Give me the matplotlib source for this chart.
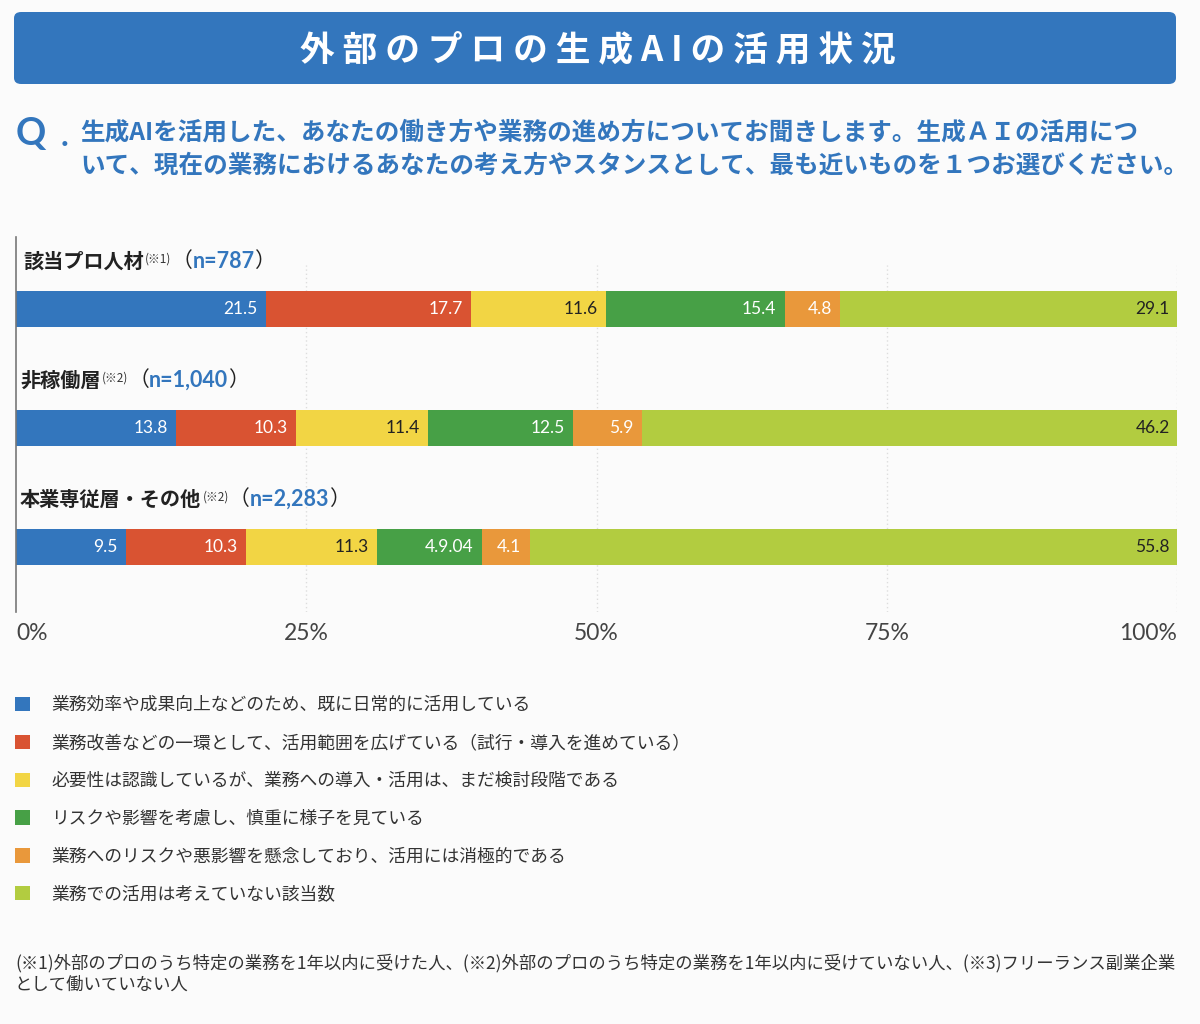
import matplotlib.pyplot as plt
import matplotlib.patches as mpatches
import numpy as np

plt.rcParams['font.family'] = ['Noto Sans CJK JP', 'DejaVu Sans']

# data
groups = ['該当プロ人材', '非稼働層', '本業専従層・その他']
notes = ['(※1)', '(※2)', '(※2)']
sizes = ['n=787', 'n=1,040', 'n=2,283']
categories = [
    '業務効率や成果向上などのため、既に日常的に活用している',
    '業務改善などの一環として、活用範囲を広げている（試行・導入を進めている）',
    '必要性は認識しているが、業務への導入・活用は、まだ検討段階である',
    'リスクや影響を考慮し、慎重に様子を見ている',
    '業務へのリスクや悪影響を懸念しており、活用には消極的である',
    '業務での活用は考えていない該当数',
]
values = [
    [21.5, 17.7, 11.6, 15.4, 4.8, 29.1],
    [13.8, 10.3, 11.4, 12.5, 5.9, 46.2],
    [9.5, 10.3, 11.3, 9.04, 4.1, 55.8],
]
value_labels = [
    ['21.5', '17.7', '11.6', '15.4', '4.8', '29.1'],
    ['13.8', '10.3', '11.4', '12.5', '5.9', '46.2'],
    ['9.5', '10.3', '11.3', '4.9.04', '4.1', '55.8'],
]
ticks = [0, 25, 50, 75, 100]
tick_labels = ['0%', '25%', '50%', '75%', '100%']

colors = ['#3376BD', '#D95332', '#F2D544', '#47A046', '#E9983B', '#B2CC40']
text_colors = ['white', 'white', '#222222', 'white', 'white', '#222222']
blue = '#3376BD'
bg = '#FBFBFB'

W, H = 1200, 1024
fig = plt.figure(figsize=(W / 100, H / 100), dpi=100, facecolor=bg)


def fx(px):
    return px / W


def fy(py):
    return 1 - py / H


# title banner
banner = mpatches.FancyBboxPatch((fx(14), fy(84)), fx(1162), 72 / H,
                                 boxstyle='round,pad=0,rounding_size=0.006',
                                 transform=fig.transFigure, facecolor=blue,
                                 edgecolor='none')
fig.patches.append(banner)
fig.text(fx(598), fy(50), ' '.join('外部のプロの生成AIの活用状況'),
         color='white', fontsize=25, weight='bold', ha='center', va='center')

# question
fig.text(fx(16), fy(134), 'Q', color=blue, fontsize=27, weight='bold',
         va='center', family='Lato')
fig.text(fx(61), fy(137), '.', color=blue, fontsize=24, weight='bold',
         va='center', family='Lato')
fig.text(fx(80), fy(133),
         '生成AIを活用した、あなたの働き方や業務の進め方についてお聞きします。生成ＡＩの活用につ',
         color=blue, fontsize=17.7, weight='bold', va='center')
fig.text(fx(80), fy(166),
         'いて、現在の業務におけるあなたの考え方やスタンスとして、最も近いものを１つお選びください。',
         color=blue, fontsize=17.7, weight='bold', va='center')

# chart
ax = fig.add_axes([fx(16), fy(612), fx(1177 - 16), (612 - 237) / H])
ax.set_facecolor(bg)
y = np.arange(len(groups))
vals = np.array(values)
lefts = np.zeros(len(groups))
bars = []
for j in range(len(categories)):
    b = ax.barh(y, vals[:, j], left=lefts, height=0.30, color=colors[j],
                label=categories[j])
    bars.append(b)
    for i in range(len(groups)):
        ax.annotate(value_labels[i][j], xy=(lefts[i] + vals[i, j], y[i]),
                    xytext=(-6, 0), textcoords='offset points', ha='right',
                    va='center', color=text_colors[j], fontsize=12.5,
                    family='Lato', annotation_clip=False)
    lefts += vals[:, j]

ax.set_xlim(0, 100)
ax.set_ylim(2.546, -0.605)
ax.vlines(ticks[1:], 2.546, -0.37, colors='#DDDDDD', linestyles=(0, (1, 2)),
          linewidth=1, zorder=0)

for s in ['top', 'right', 'bottom']:
    ax.spines[s].set_visible(False)
ax.spines['left'].set_color('#777777')
ax.spines['left'].set_linewidth(1.2)
ax.set_yticks([])
ax.set_xticks(ticks)
ax.set_xticklabels(tick_labels, fontsize=16.5, color='#444444', family='Lato')
ax.tick_params(axis='x', length=0, pad=8)
xl = ax.get_xticklabels()
xl[0].set_ha('left')
xl[-1].set_ha('right')

# group headings
for i, g in enumerate(groups):
    t1 = ax.text(0.6 if i == 0 else 0.35, y[i] - 0.40, g, fontsize=14.5,
                 weight='bold', color='#222222', va='center')
    t2 = ax.annotate(notes[i], xy=(1, 1), xycoords=t1, xytext=(1, -1),
                     textcoords='offset points', fontsize=8.5,
                     color='#333333', va='top')
    t3 = ax.annotate('（', xy=(1, 0), xycoords=(t2, t1), fontsize=15,
                     color='#222222', va='bottom')
    t4 = ax.annotate(sizes[i], xy=(1, 0), xycoords=t3, fontsize=15.5,
                     color=blue, weight='bold', va='bottom', family='Lato')
    ax.annotate('）', xy=(1, 0), xycoords=(t4, t3), fontsize=15,
                color='#222222', va='bottom')

# legend
handles = [b.patches[0] for b in bars]
fig.legend(handles, categories, loc='upper left',
           bbox_to_anchor=(fx(15), fy(696)), frameon=False, fontsize=12.8,
           handlelength=0.85, handleheight=0.85, handletextpad=1.2,
           labelspacing=1.12, labelcolor='#333333', borderpad=0,
           borderaxespad=0)

# footnote
fig.text(fx(15), fy(963),
         '(※1)外部のプロのうち特定の業務を1年以内に受けた人、(※2)外部のプロのうち特定の業務を1年以内に受けていない人、(※3)フリーランス副業企業',
         fontsize=12.5, color='#333333', va='center')
fig.text(fx(15), fy(985), 'として働いていない人', fontsize=12.5,
         color='#333333', va='center')

fig.savefig('out.png', dpi=100, facecolor=bg)
